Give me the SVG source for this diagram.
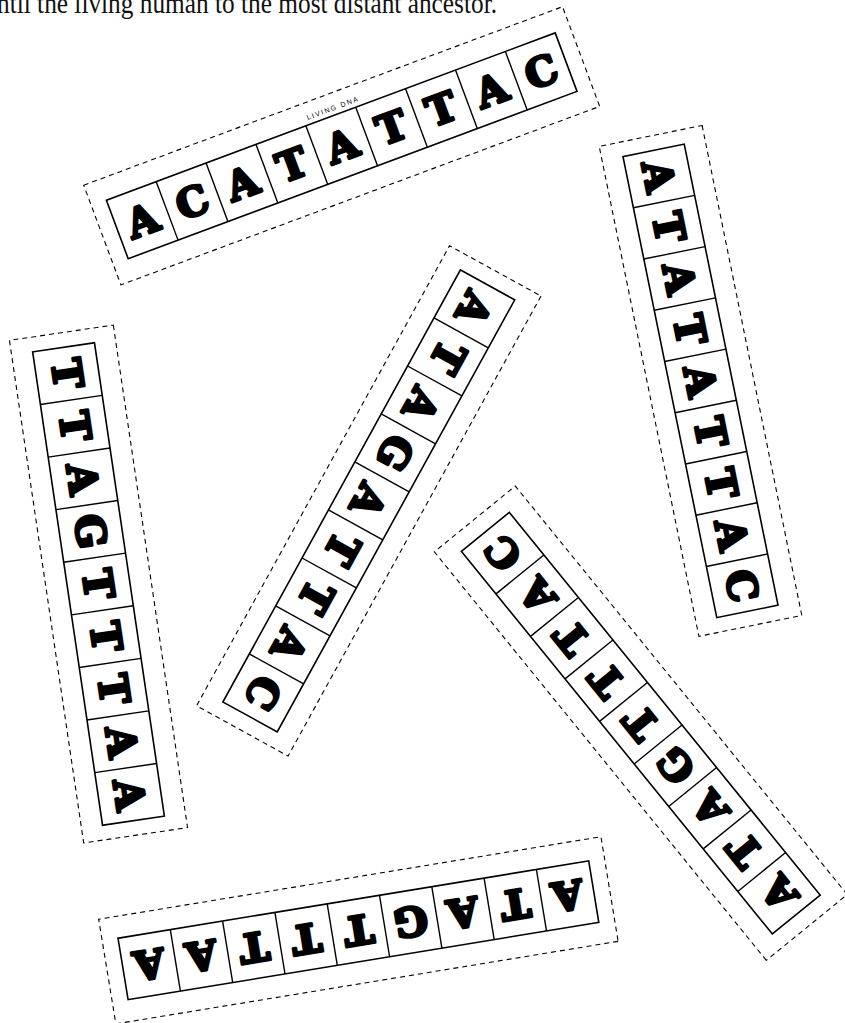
<svg xmlns="http://www.w3.org/2000/svg" width="845" height="1023" viewBox="0 0 845 1023">
<style>
.outer{fill:none;stroke:#000;stroke-width:1.1;stroke-dasharray:5 4}
.inner{fill:#fff;stroke:#000;stroke-width:1.6}
.div{stroke:#000;stroke-width:1.4}
.let{font-family:"DejaVu Serif",serif;font-weight:bold;font-size:40px;text-anchor:middle;fill:#000;stroke:#000;stroke-width:3;stroke-linejoin:round}
.brand{font-family:"Liberation Sans",Arial,sans-serif;font-size:7px;letter-spacing:1.6px;text-anchor:middle;fill:#000}
.top{font-family:"Liberation Serif","Times New Roman",serif;font-size:30px;fill:#111}
</style>
<rect width="845" height="1023" fill="#fff"/>
<text class="top" x="-3" y="13" textLength="500" lengthAdjust="spacingAndGlyphs">ntil the living human to the most distant ancestor.</text>

<g id="strip-1" transform="translate(341.7,145.8) rotate(-20.45)">
<rect class="outer" x="-255.5" y="-53.2" width="511" height="106.4"/>
<rect class="inner" x="-239.5" y="-31.2" width="479" height="62.4"/>
<g class="div"><line x1="-186.3" y1="-31.2" x2="-186.3" y2="31.2"/><line x1="-133.1" y1="-31.2" x2="-133.1" y2="31.2"/><line x1="-79.8" y1="-31.2" x2="-79.8" y2="31.2"/><line x1="-26.6" y1="-31.2" x2="-26.6" y2="31.2"/><line x1="26.6" y1="-31.2" x2="26.6" y2="31.2"/><line x1="79.8" y1="-31.2" x2="79.8" y2="31.2"/><line x1="133.1" y1="-31.2" x2="133.1" y2="31.2"/><line x1="186.3" y1="-31.2" x2="186.3" y2="31.2"/></g>
<text class="brand" x="5" y="-36">LIVING DNA</text>
<text class="let" x="-212.9" y="14.5">A</text><text class="let" x="-159.7" y="14.5">C</text><text class="let" x="-106.4" y="14.5">A</text><text class="let" x="-53.2" y="14.5">T</text><text class="let" x="0" y="14.5">A</text><text class="let" x="53.2" y="14.5">T</text><text class="let" x="106.4" y="14.5">T</text><text class="let" x="159.7" y="14.5">A</text><text class="let" x="212.9" y="14.5">C</text>
</g>

<g id="strip-2" transform="translate(98.5,584) rotate(81.6)">
<rect class="outer" x="-254" y="-52.5" width="508" height="105"/>
<rect class="inner" x="-239.25" y="-31.25" width="478.5" height="62.5"/>
<g class="div"><line x1="-186.1" y1="-31.25" x2="-186.1" y2="31.25"/><line x1="-132.9" y1="-31.25" x2="-132.9" y2="31.25"/><line x1="-79.75" y1="-31.25" x2="-79.75" y2="31.25"/><line x1="-26.6" y1="-31.25" x2="-26.6" y2="31.25"/><line x1="26.6" y1="-31.25" x2="26.6" y2="31.25"/><line x1="79.75" y1="-31.25" x2="79.75" y2="31.25"/><line x1="132.9" y1="-31.25" x2="132.9" y2="31.25"/><line x1="186.1" y1="-31.25" x2="186.1" y2="31.25"/></g>
<text class="let" x="-212.7" y="14.5">T</text><text class="let" x="-159.5" y="14.5">T</text><text class="let" x="-106.3" y="14.5">A</text><text class="let" x="-53.2" y="14.5">G</text><text class="let" x="0" y="14.5">T</text><text class="let" x="53.2" y="14.5">T</text><text class="let" x="106.3" y="14.5">T</text><text class="let" x="159.5" y="14.5">A</text><text class="let" x="212.7" y="14.5">A</text>
</g>

<g id="strip-3" transform="translate(368.8,500.9) rotate(118.8)">
<rect class="outer" x="-262.5" y="-52.2" width="525" height="104.4"/>
<rect class="inner" x="-246.5" y="-31" width="493" height="62"/>
<g class="div"><line x1="-191.7" y1="-31" x2="-191.7" y2="31"/><line x1="-136.9" y1="-31" x2="-136.9" y2="31"/><line x1="-82.2" y1="-31" x2="-82.2" y2="31"/><line x1="-27.4" y1="-31" x2="-27.4" y2="31"/><line x1="27.4" y1="-31" x2="27.4" y2="31"/><line x1="82.2" y1="-31" x2="82.2" y2="31"/><line x1="136.9" y1="-31" x2="136.9" y2="31"/><line x1="191.7" y1="-31" x2="191.7" y2="31"/></g>
<text class="let" x="-219.1" y="14.5">A</text><text class="let" x="-164.3" y="14.5">T</text><text class="let" x="-109.6" y="14.5">A</text><text class="let" x="-54.8" y="14.5">G</text><text class="let" x="0" y="14.5">A</text><text class="let" x="54.8" y="14.5">T</text><text class="let" x="109.6" y="14.5">T</text><text class="let" x="164.3" y="14.5">A</text><text class="let" x="219.1" y="14.5">C</text>
</g>

<g id="strip-4" transform="translate(700.5,380.9) rotate(78.5)">
<rect class="outer" x="-250" y="-52.5" width="500" height="105"/>
<rect class="inner" x="-235.25" y="-31.25" width="470.5" height="62.5"/>
<g class="div"><line x1="-183" y1="-31.25" x2="-183" y2="31.25"/><line x1="-130.7" y1="-31.25" x2="-130.7" y2="31.25"/><line x1="-78.4" y1="-31.25" x2="-78.4" y2="31.25"/><line x1="-26.1" y1="-31.25" x2="-26.1" y2="31.25"/><line x1="26.1" y1="-31.25" x2="26.1" y2="31.25"/><line x1="78.4" y1="-31.25" x2="78.4" y2="31.25"/><line x1="130.7" y1="-31.25" x2="130.7" y2="31.25"/><line x1="183" y1="-31.25" x2="183" y2="31.25"/></g>
<text class="let" x="-209.1" y="14.5">A</text><text class="let" x="-156.8" y="14.5">T</text><text class="let" x="-104.6" y="14.5">A</text><text class="let" x="-52.3" y="14.5">T</text><text class="let" x="0" y="14.5">A</text><text class="let" x="52.3" y="14.5">T</text><text class="let" x="104.6" y="14.5">T</text><text class="let" x="156.8" y="14.5">A</text><text class="let" x="209.1" y="14.5">C</text>
</g>

<g id="strip-5" transform="translate(640.8,723.2) rotate(230.9)">
<rect class="outer" x="-263.2" y="-52.15" width="526.4" height="104.3"/>
<rect class="inner" x="-246.5" y="-30.85" width="493" height="61.7"/>
<g class="div"><line x1="-191.7" y1="-30.85" x2="-191.7" y2="30.85"/><line x1="-136.9" y1="-30.85" x2="-136.9" y2="30.85"/><line x1="-82.2" y1="-30.85" x2="-82.2" y2="30.85"/><line x1="-27.4" y1="-30.85" x2="-27.4" y2="30.85"/><line x1="27.4" y1="-30.85" x2="27.4" y2="30.85"/><line x1="82.2" y1="-30.85" x2="82.2" y2="30.85"/><line x1="136.9" y1="-30.85" x2="136.9" y2="30.85"/><line x1="191.7" y1="-30.85" x2="191.7" y2="30.85"/></g>
<text class="let" x="-219.1" y="14.5">A</text><text class="let" x="-164.3" y="14.5">T</text><text class="let" x="-109.6" y="14.5">A</text><text class="let" x="-54.8" y="14.5">G</text><text class="let" x="0" y="14.5">T</text><text class="let" x="54.8" y="14.5">T</text><text class="let" x="109.6" y="14.5">T</text><text class="let" x="164.3" y="14.5">A</text><text class="let" x="219.1" y="14.5">C</text>
</g>

<g id="strip-6" transform="translate(358.4,930.3) rotate(170.67)">
<rect class="outer" x="-254.5" y="-53" width="509" height="106"/>
<rect class="inner" x="-238.5" y="-31.15" width="477" height="62.3"/>
<g class="div"><line x1="-185.5" y1="-31.15" x2="-185.5" y2="31.15"/><line x1="-132.5" y1="-31.15" x2="-132.5" y2="31.15"/><line x1="-79.5" y1="-31.15" x2="-79.5" y2="31.15"/><line x1="-26.5" y1="-31.15" x2="-26.5" y2="31.15"/><line x1="26.5" y1="-31.15" x2="26.5" y2="31.15"/><line x1="79.5" y1="-31.15" x2="79.5" y2="31.15"/><line x1="132.5" y1="-31.15" x2="132.5" y2="31.15"/><line x1="185.5" y1="-31.15" x2="185.5" y2="31.15"/></g>
<text class="let" x="-212" y="14.5">A</text><text class="let" x="-159" y="14.5">T</text><text class="let" x="-106" y="14.5">A</text><text class="let" x="-53" y="14.5">G</text><text class="let" x="0" y="14.5">T</text><text class="let" x="53" y="14.5">T</text><text class="let" x="106" y="14.5">T</text><text class="let" x="159" y="14.5">A</text><text class="let" x="212" y="14.5">A</text>
</g>
</svg>
